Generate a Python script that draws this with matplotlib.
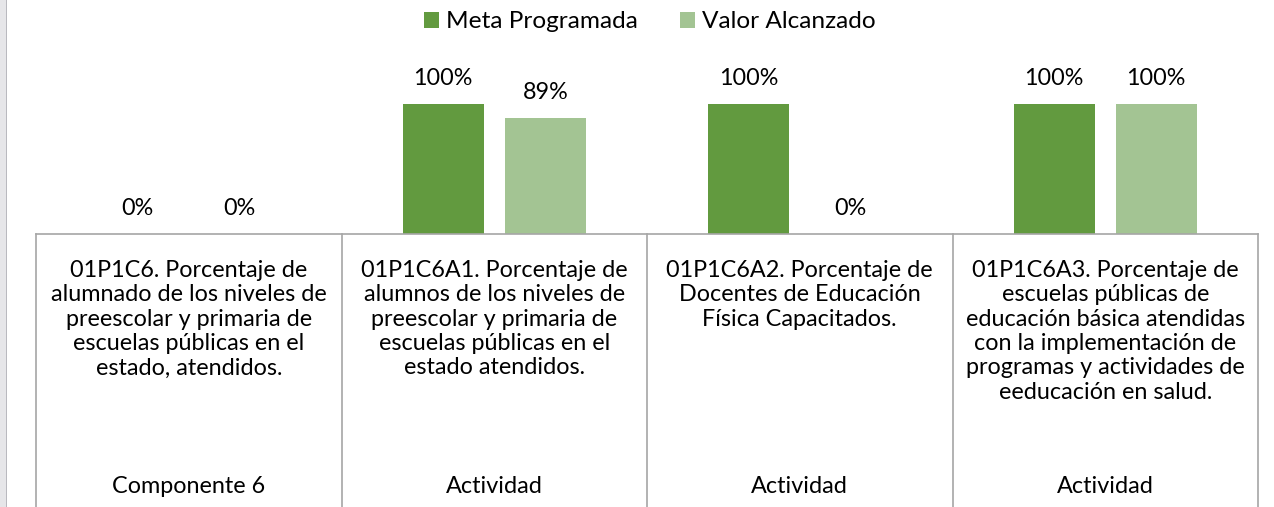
import numpy as np
import matplotlib
matplotlib.use("Agg")
import matplotlib.pyplot as plt
from matplotlib.patches import Rectangle

# ==============================
# DATA
# ==============================
indicadores = [
    "01P1C6. Porcentaje de\nalumnado de los niveles de\npreescolar y primaria de\nescuelas públicas en el\nestado, atendidos.",
    "01P1C6A1. Porcentaje de\nalumnos de los niveles de\npreescolar y primaria de\nescuelas públicas en el\nestado atendidos.",
    "01P1C6A2. Porcentaje de\nDocentes de Educación\nFísica Capacitados.",
    "01P1C6A3. Porcentaje de\nescuelas públicas de\neducación básica atendidas\ncon la implementación de\nprogramas y actividades de\needucación en salud.",
]
niveles = ["Componente 6", "Actividad", "Actividad", "Actividad"]

meta_programada = [0.0, 1.00, 1.00, 1.00]
valor_alcanzado = [0.0, 0.89, 0.0, 1.00]

series_names = ["Meta Programada", "Valor Alcanzado"]
COLOR_META = "#629a3f"
COLOR_VALOR = "#a3c493"
LINE_COLOR = "#a6a6a6"

plt.rcParams['font.family'] = ['Lato', 'DejaVu Sans']
FS = 16.8

# ==============================
# FIGURE
# ==============================
fig = plt.figure(figsize=(12.74, 5.07), dpi=100)
ax = fig.add_axes([36 / 1274, (507 - 234) / 507, (1258 - 36) / 1274, 182 / 507])

# window chrome at left edge
fig.add_artist(Rectangle((0, 0), 7 / 1274, 1, transform=fig.transFigure,
                         facecolor="#e6e6e9", edgecolor="none"))
fig.add_artist(Rectangle((6 / 1274, 0), 1.5 / 1274, 1, transform=fig.transFigure,
                         facecolor="#b9b9bf", edgecolor="none"))

x = np.arange(len(indicadores))
width = 0.265
offset = 0.167

bars1 = ax.bar(x - offset, meta_programada, width, color=COLOR_META, label=series_names[0])
bars2 = ax.bar(x + offset, valor_alcanzado, width, color=COLOR_VALOR, label=series_names[1])

for bars in (bars1, bars2):
    for b in bars:
        h = b.get_height()
        ax.annotate(f"{h * 100:.0f}%", (b.get_x() + b.get_width() / 2, h),
                    xytext=(0, 11), textcoords="offset points",
                    ha="center", va="bottom", fontsize=FS, color="#000000")

ax.set_xlim(-0.5, len(indicadores) - 0.5)
ax.set_ylim(0, 1.4)
ax.set_xticks([])
ax.set_yticks([])
for s in ["top", "right", "left"]:
    ax.spines[s].set_visible(False)
ax.spines["bottom"].set_color(LINE_COLOR)
ax.spines["bottom"].set_linewidth(1.2)

# multi-level category table
trans = ax.get_xaxis_transform()
for b in np.arange(len(indicadores) + 1) - 0.5:
    ax.plot([b, b], [0, -1.52], color=LINE_COLOR, lw=1.2,
            transform=trans, clip_on=False)

for i, (lab, niv) in enumerate(zip(indicadores, niveles)):
    ax.text(i, -0.142, lab, transform=trans, ha="center", va="top",
            fontsize=FS, linespacing=1.2, multialignment="center")
    ax.text(i, -1.385, niv, transform=trans, ha="center", va="center",
            fontsize=FS)

# ==============================
# LEGEND
# ==============================
fig.legend(handles=[bars1, bars2], labels=series_names, loc="center",
           bbox_to_anchor=(0.51, 0.957), ncol=2, frameon=False,
           fontsize=17.6, handlelength=0.62, handleheight=0.62,
           handletextpad=0.3, columnspacing=1.7)

fig.savefig("out.png", dpi=100, facecolor="white")
